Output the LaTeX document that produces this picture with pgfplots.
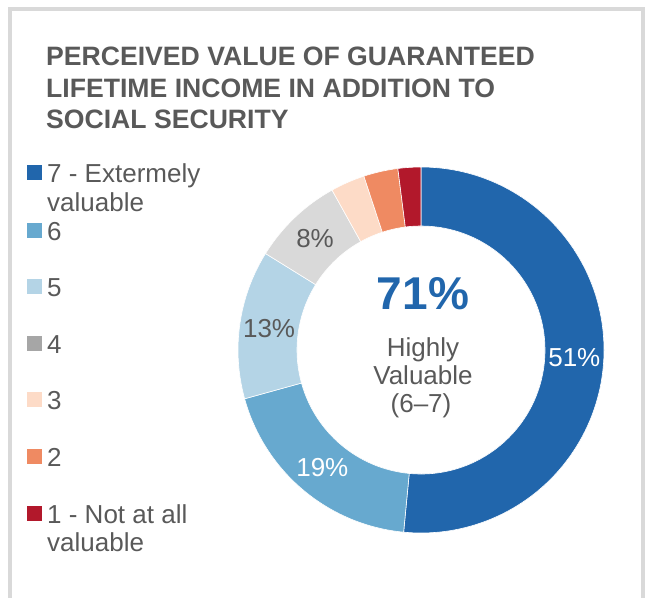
\documentclass[border=0pt]{standalone}
\usepackage{pgfplots}
\usepackage{pgfplotstable}
\pgfplotsset{compat=1.18}
\usepackage{fontspec}
\setmainfont{Liberation Sans}

\definecolor{txt}{HTML}{595959}
\definecolor{frame}{HTML}{D9D9D9}
\definecolor{slice0}{HTML}{2166AC}
\definecolor{slice1}{HTML}{67A9CF}
\definecolor{slice2}{HTML}{B4D4E6}
\definecolor{slice3}{HTML}{D9D9D9}
\definecolor{slice4}{HTML}{FDDBC7}
\definecolor{slice5}{HTML}{EF8A62}
\definecolor{slice6}{HTML}{B2182B}
\definecolor{leg3}{HTML}{A6A6A6}

\pgfplotstableread{
level value
7 51
6 19
5 13
4 8
3 3
2 3
1 2
}\donutdata

\begin{document}
\begin{tikzpicture}
% cumulative angles from the data (clockwise from 12 o'clock)
\xdef\total{0}
\foreach \i in {0,...,6}{%
  \pgfplotstablegetelem{\i}{value}\of\donutdata
  \pgfmathsetmacro\tmp{\total+\pgfplotsretval}%
  \xdef\total{\tmp}%
}
\xdef\cum{0}
\foreach \i in {0,...,6}{%
  \pgfplotstablegetelem{\i}{value}\of\donutdata
  \xdef\val{\pgfplotsretval}%
  \pgfmathsetmacro\s{90-\cum/\total*360}%
  \pgfmathsetmacro\nc{\cum+\val}%
  \pgfmathsetmacro\e{90-\nc/\total*360}%
  \pgfmathsetmacro\m{(\s+\e)/2}%
  \expandafter\xdef\csname angS\i\endcsname{\s}%
  \expandafter\xdef\csname angE\i\endcsname{\e}%
  \expandafter\xdef\csname angM\i\endcsname{\m}%
  \pgfmathtruncatemacro\vi{\val}%
  \expandafter\xdef\csname lab\i\endcsname{\vi}%
  \xdef\cum{\nc}%
}
\begin{axis}[
  width=645pt, height=597pt, scale only axis,
  xmin=0, xmax=645, ymin=0, ymax=597, y dir=reverse,
  hide axis, clip=true,
]
\addplot[draw=none] coordinates {(0,0) (645,597)};
% frame
\draw[frame, line width=4pt] (axis cs:10,9) rectangle (axis cs:643,700);
% donut slices
\pgfplotsinvokeforeach{0,...,6}{
  \fill[fill=slice#1, draw=white, line width=0.6pt, shift={(axis cs:421,350)}]
    (\csname angS#1\endcsname:183pt)
    arc[start angle=\csname angS#1\endcsname, end angle=\csname angE#1\endcsname, radius=183pt]
    -- (\csname angE#1\endcsname:124pt)
    arc[start angle=\csname angE#1\endcsname, end angle=\csname angS#1\endcsname, radius=124pt]
    -- cycle;
}
% data labels
\pgfplotsinvokeforeach{0,1}{
  \node[text=white, font=\fontsize{26}{30}\selectfont, shift={(axis cs:421,350)}]
    at (\csname angM#1\endcsname:153.5pt) {\csname lab#1\endcsname\%};
}
\pgfplotsinvokeforeach{2,3}{
  \node[text=txt, font=\fontsize{26}{30}\selectfont, shift={(axis cs:421,350)}]
    at (\csname angM#1\endcsname:153.5pt) {\csname lab#1\endcsname\%};
}
% centre text
\node[text=slice0, font=\bfseries\fontsize{46}{50}\selectfont, anchor=base] at (axis cs:423,309) {71\%};
\node[text=txt, font=\fontsize{26}{30}\selectfont, anchor=base] at (axis cs:423,356) {Highly};
\node[text=txt, font=\fontsize{26}{30}\selectfont, anchor=base] at (axis cs:423,384) {Valuable};
\node[text=txt, font=\fontsize{26}{30}\selectfont, anchor=base] at (axis cs:421,412) {(6--7)};
% title
\tikzset{ttl/.style={text=txt, font=\bfseries\fontsize{26.6}{30}\selectfont, anchor=base west, inner sep=0pt}}
\node[ttl] at (axis cs:46,65) {PERCEIVED VALUE OF GUARANTEED};
\node[ttl] at (axis cs:46,97) {LIFETIME INCOME IN ADDITION TO};
\node[ttl] at (axis cs:46,128) {SOCIAL SECURITY};
% legend
\tikzset{lg/.style={text=txt, font=\fontsize{26}{30}\selectfont, anchor=base west, inner sep=0pt}}
\fill[slice0] (axis cs:27,165) rectangle (axis cs:42,180);
\node[lg] at (axis cs:47,182) {7 - Extermely};
\node[lg] at (axis cs:47,211) {valuable};
\fill[slice1] (axis cs:27,223) rectangle (axis cs:42,238);
\node[lg] at (axis cs:47,240) {6};
\fill[slice2] (axis cs:27,279) rectangle (axis cs:42,294);
\node[lg] at (axis cs:47,296) {5};
\fill[leg3] (axis cs:27,336) rectangle (axis cs:42,351);
\node[lg] at (axis cs:47,353) {4};
\fill[slice4] (axis cs:27,392) rectangle (axis cs:42,407);
\node[lg] at (axis cs:47,409) {3};
\fill[slice5] (axis cs:27,449) rectangle (axis cs:42,464);
\node[lg] at (axis cs:47,466) {2};
\fill[slice6] (axis cs:27,506) rectangle (axis cs:42,521);
\node[lg] at (axis cs:47,523) {1 - Not at all};
\node[lg] at (axis cs:47,551) {valuable};
\end{axis}
\end{tikzpicture}
\end{document}
